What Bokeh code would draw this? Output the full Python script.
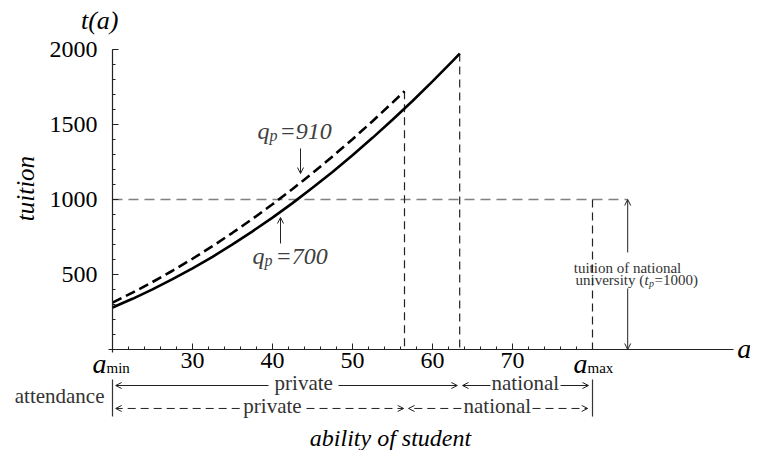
from bokeh.plotting import figure
from bokeh.models import (Range1d, LinearAxis, FixedTicker, Label, Arrow, OpenHead)
from bokeh.embed import file_html
from bokeh.resources import INLINE

# ---------------- data ----------------
a_solid = [20, 22.5, 25, 27.5, 30, 32.5, 35, 37.5, 40, 42.5, 45, 47.5, 50,
           52.5, 55, 57.5, 60, 62.5, 63.4]                          # q_p = 700
t_solid = [280, 338, 401, 469, 541, 618, 701, 788, 879, 976, 1078, 1184, 1295,
           1411, 1532, 1657, 1788, 1923, 1973]
a_dash = [20, 22.5, 25, 27.5, 30, 32.5, 35, 37.5, 40, 42.5, 45, 47.5, 50,
          52.5, 55, 56.5]                                           # q_p = 910
t_dash = [313, 379, 450, 525, 605, 689, 778, 871, 968, 1070, 1176, 1287, 1402,
          1522, 1646, 1722]

a_min, a_max = 20, 80
t_national = 1000
x_ticks = [20, 30, 40, 50, 60, 70, 80]
x_tick_labels = {20: "", 30: "30", 40: "40", 50: "50", 60: "60", 70: "70", 80: ""}
x_minor = list(range(20, 81, 2))
y_ticks = [500, 1000, 1500, 2000]
y_minor = list(range(100, 2001, 100))

FONT = "Liberation Serif"
T_PER_PX = 1 / 0.15   # vertical data units per screen pixel (y_range / height)

p = figure(width=750, height=450, output_backend="svg", toolbar_location=None,
           x_axis_type=None, y_axis_type=None, min_border=0,
           x_range=Range1d(6, 99.75), y_range=Range1d(-673.3, 2326.7))
p.outline_line_color = None
p.background_fill_color = "white"

# ---------------- axes ----------------
xax = LinearAxis(fixed_location=0, bounds=(19.5, 97.6),
                 ticker=FixedTicker(ticks=x_ticks, minor_ticks=x_minor))
xax.major_label_overrides = x_tick_labels
yax = LinearAxis(fixed_location=a_min, bounds=(-20, 2000),
                 ticker=FixedTicker(ticks=y_ticks, minor_ticks=y_minor))
for ax in (xax, yax):
    ax.axis_line_color = "#222222"
    ax.axis_line_width = 1.2
    ax.major_tick_in = 6
    ax.major_tick_out = 0
    ax.minor_tick_in = 3
    ax.minor_tick_out = 0
    ax.major_tick_line_color = "#222222"
    ax.minor_tick_line_color = "#222222"
    ax.major_label_text_font = FONT
    ax.major_label_text_font_size = "24px"
    ax.major_label_text_color = "black"
xax.major_label_standoff = 3
yax.major_label_standoff = 15
p.add_layout(xax, "below")
p.add_layout(yax, "left")

# ---------------- reference lines ----------------
p.segment(x0=[a_min], y0=[t_national], x1=[84.4], y1=[t_national],
          line_color="#808080", line_width=1.5, line_dash="10 6")
p.segment(x0=[a_dash[-1], a_solid[-1], a_max],
          y0=[t_dash[-1], t_solid[-1], t_national],
          x1=[a_dash[-1], a_solid[-1], a_max], y1=[0, 0, 0],
          line_color="#222222", line_width=1.2, line_dash="8 5")

# ---------------- curves ----------------
p.line(a_solid, t_solid, line_color="black", line_width=2.6)
p.line(a_dash, t_dash, line_color="black", line_width=2.6, line_dash="10 5")


def label(x, y, s, size, style="normal", align="left", baseline="alphabetic",
          color="black", angle=0.0):
    # 'alphabetic' positions are given as baselines; convert to middle
    if baseline == "alphabetic":
        y = y + 0.33 * size * T_PER_PX
        baseline = "middle"
    p.add_layout(Label(x=x, y=y, text=s, text_font=FONT,
                       text_font_size=f"{size}px", text_font_style=style,
                       text_align=align, text_baseline=baseline,
                       text_color=color, angle=angle))


def arrow(x0, y0, x1, y1, dash="solid", color="#222222", size=6):
    p.add_layout(Arrow(end=OpenHead(size=size, line_width=1, line_color=color),
                       x_start=x0, y_start=y0, x_end=x1, y_end=y1,
                       line_width=1, line_color=color, line_dash=dash))


# axis titles
label(18.4, 2193, "t(a)", 26, "italic", "center", "middle")
label(9.125, 1073, "tuition", 25, "italic", "center", "middle", angle=1.5708)
label(98.1, -53, "a", 28, "italic", "left")
label(54.75, -640, "ability of student", 24, "italic", "center")

# a_min / a_max tick labels
label(19.25, -153, "a", 28, "italic", "right")
label(19.25, -153, "min", 15, "normal", "left")
label(79.375, -153, "a", 28, "italic", "right")
label(79.375, -153, "max", 15, "normal", "left")

# q_p labels
grey = "#404040"
label(38.125, 1407, "q", 24, "italic", color=grey)
label(39.625, 1393, "p", 16, "italic", color=grey)
label(40.875, 1407, "=910", 24, "italic", color=grey)
arrow(43.5, 1340, 43.5, 1173)

label(37.5, 573, "q", 24, "italic", color=grey)
label(39.0, 560, "p", 16, "italic", color=grey)
label(40.375, 573, "=700", 24, "italic", color=grey)
arrow(41.0, 707, 41.0, 880)

# national tuition annotation
txt = "#333333"
arrow(84.4, 647, 84.4, t_national)
arrow(84.4, 407, 84.4, 0)
label(84.375, 513, "tuition of national", 15, "normal", "center", color=txt)
label(77.875, 433, "university (", 15, "normal", "left", color=txt)
label(86.5, 433, "t", 15, "italic", "left", color=txt)
label(87.05, 420, "p", 10, "italic", "left", color=txt)
label(87.75, 433, "=1000)", 15, "normal", "left", color=txt)

# attendance rows
r1, r2 = -240, -393
p.segment(x0=[a_min, a_max], y0=[-200, -200], x1=[a_min, a_max], y1=[-447, -447],
          line_color="#333333", line_width=1.2)
label(19.0, -353, "attendance", 21, "normal", "right", color=txt)

label(43.9, -267, "private", 21, "normal", "center", color=txt)
label(71.6, -267, "national", 21, "normal", "center", color=txt)
arrow(39.5, r1, a_min + 0.4, r1)
arrow(48.25, r1, a_solid[-1] - 0.3, r1)
arrow(67.25, r1, a_solid[-1] + 0.35, r1)
arrow(76.0, r1, a_max - 0.5, r1)

label(40.0, -420, "private", 21, "normal", "center", color=txt)
label(68.1, -420, "national", 21, "normal", "center", color=txt)
arrow(35.9, r2, a_min + 0.4, r2, dash="8 5")
arrow(44.25, r2, a_dash[-1] - 0.1, r2, dash="8 5")
arrow(63.6, r2, a_dash[-1] + 0.5, r2, dash="8 5")
arrow(72.5, r2, a_max - 0.6, r2, dash="8 5")

open("out.html", "w").write(file_html(p, INLINE))
